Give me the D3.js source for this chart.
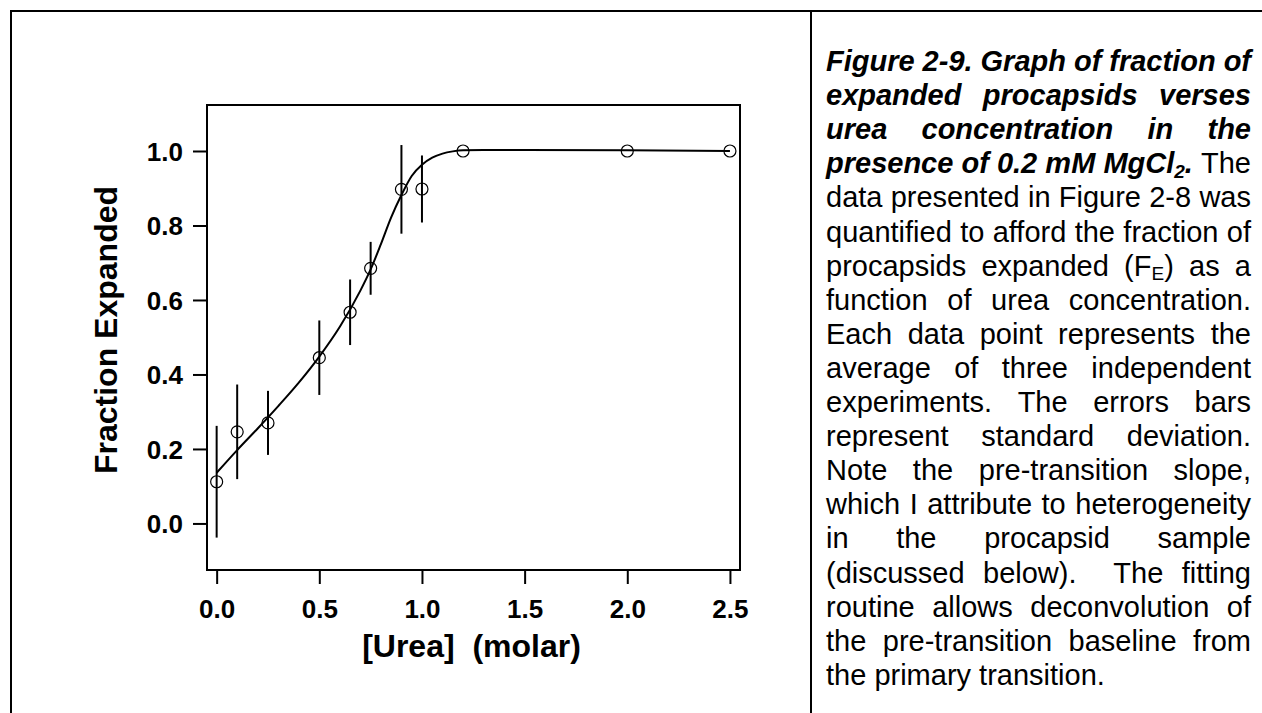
<!DOCTYPE html>
<html>
<head>
<meta charset="utf-8">
<script src="https://cdn.jsdelivr.net/npm/d3@7"></script>
<style>
  html, body { margin: 0; padding: 0; background: #fff; }
  svg { display: block; }
  text { font-family: "Liberation Sans", Arial, sans-serif; fill: #000; }
</style>
</head>
<body>
<svg id="fig" width="1262" height="713"></svg>
<script>
// Fraction of expanded procapsids vs. urea concentration (0.2 mM MgCl2)
const urea = [0, 0.1, 0.25, 0.5, 0.65, 0.75, 0.9, 1.0, 1.2, 2.0, 2.5];
const fracExpanded = [0.112, 0.246, 0.270, 0.445, 0.567, 0.685, 0.897, 0.898, 1.0, 1.0, 1.0];
const stdDev = [0.150, 0.127, 0.086, 0.100, 0.088, 0.071, 0.119, 0.090, 0, 0, 0];

// Fitted transition curve (baseline + sigmoid), sampled along urea
const fitUrea = [0, 0.1, 0.2, 0.3, 0.4, 0.5, 0.6, 0.7, 0.75, 0.8, 0.85, 0.9, 0.95, 1.0, 1.05, 1.1, 1.15, 1.2, 1.3, 1.5, 2.0, 2.5];
const fitFrac = [0.136, 0.197, 0.255, 0.315, 0.378, 0.448, 0.528, 0.625, 0.682, 0.750, 0.822, 0.882, 0.933, 0.963, 0.982, 0.993, 0.999, 1.002, 1.003, 1.003, 1.002, 1.0];

const xTickValues = [0, 0.5, 1.0, 1.5, 2.0, 2.5];
const yTickValues = [0, 0.2, 0.4, 0.6, 0.8, 1.0];

const xTitle = "[Urea]  (molar)";
const yTitle = "Fraction Expanded";

// Caption lines: runs of [text, style]; bi = bold italic, r = regular, *sub = subscript
const captionLines = [
  [["Figure 2-9. Graph of fraction of", "bi"]],
  [["expanded procapsids verses", "bi"]],
  [["urea concentration in the", "bi"]],
  [["presence of 0.2 mM MgCl", "bi"], ["2", "bisub"], [".", "bi"], [" The", "r"]],
  [["data presented in Figure 2-8 was", "r"]],
  [["quantified to afford the fraction of", "r"]],
  [["procapsids expanded (F", "r"], ["E", "rsub"], [") as a", "r"]],
  [["function of urea concentration.", "r"]],
  [["Each data point represents the", "r"]],
  [["average of three independent", "r"]],
  [["experiments. The errors bars", "r"]],
  [["represent standard deviation.", "r"]],
  [["Note the pre-transition slope,", "r"]],
  [["which I attribute to heterogeneity", "r"]],
  [["in the procapsid sample", "r"]],
  [["(discussed below).  The fitting", "r"]],
  [["routine allows deconvolution of", "r"]],
  [["the pre-transition baseline from", "r"]],
  [["the primary transition.", "r"]]
];

const svg = d3.select("#fig");
svg.append("rect").attr("width", 1262).attr("height", 713).attr("fill", "#fff");

// Page frame: top rule, left rule, and the divider between graph and caption
const page = svg.append("g").attr("stroke", "#000").attr("stroke-width", 2);
page.append("line").attr("x1", 10).attr("x2", 1262).attr("y1", 11).attr("y2", 11);
page.append("line").attr("x1", 11).attr("x2", 11).attr("y1", 10).attr("y2", 713);
page.append("line").attr("x1", 811).attr("x2", 811).attr("y1", 10).attr("y2", 713);

// Scales
const x = d3.scaleLinear().domain([-0.047, 2.549]).range([207, 740]);
const y = d3.scaleLinear().domain([-0.125, 1.1235]).range([570, 105]);

const plot = svg.append("g");

// Plot box
plot.append("rect")
  .attr("x", x.range()[0]).attr("y", y.range()[1])
  .attr("width", x.range()[1] - x.range()[0])
  .attr("height", y.range()[0] - y.range()[1])
  .attr("fill", "none").attr("stroke", "#000").attr("stroke-width", 2);

// Axes
const fmt = d3.format(".1f");
const yAxis = plot.append("g")
  .attr("transform", `translate(${x.range()[0]},0)`)
  .call(d3.axisLeft(y).tickValues(yTickValues).tickFormat(fmt).tickSize(14).tickPadding(10));
const xAxis = plot.append("g")
  .attr("transform", `translate(0,${y.range()[0]})`)
  .call(d3.axisBottom(x).tickValues(xTickValues).tickFormat(fmt).tickSize(14).tickPadding(16));

[xAxis, yAxis].forEach(a => {
  a.select(".domain").remove();
  a.selectAll(".tick line").attr("stroke", "#000").attr("stroke-width", 2);
  a.selectAll(".tick text")
    .attr("fill", "#000")
    .style("font-family", '"Liberation Sans", Arial, sans-serif')
    .style("font-size", "26px")
    .style("font-weight", "bold");
});
yAxis.selectAll(".tick text").attr("dy", "0.36em");

// Axis titles
plot.append("text")
  .attr("x", 471.5).attr("y", 657)
  .attr("text-anchor", "middle")
  .attr("xml:space", "preserve")
  .style("font-size", "32px").style("font-weight", "bold")
  .text(xTitle);

plot.append("text")
  .attr("transform", "translate(117,330) rotate(-90)")
  .attr("text-anchor", "middle")
  .style("font-size", "32px").style("font-weight", "bold")
  .text(yTitle);

// Fit curve
const fitPts = fitUrea.map((u, i) => [u, fitFrac[i]]);
plot.append("path")
  .datum(fitPts)
  .attr("fill", "none").attr("stroke", "#000").attr("stroke-width", 2)
  .attr("d", d3.line().x(d => x(d[0])).y(d => y(d[1])).curve(d3.curveMonotoneX));

// Data with standard deviation bars
const data = urea.map((u, i) => ({ u, f: fracExpanded[i], sd: stdDev[i] }));
plot.append("g").selectAll("line")
  .data(data.filter(d => d.sd > 0))
  .join("line")
  .attr("x1", d => x(d.u)).attr("x2", d => x(d.u))
  .attr("y1", d => y(d.f + d.sd)).attr("y2", d => y(d.f - d.sd))
  .attr("stroke", "#000").attr("stroke-width", 2);

plot.append("g").selectAll("circle")
  .data(data)
  .join("circle")
  .attr("cx", d => x(d.u)).attr("cy", d => y(d.f))
  .attr("r", 6)
  .attr("fill", "none").attr("stroke", "#000").attr("stroke-width", 1.2);

// Caption, fully justified except for the final line
const cap = { left: 826, right: 1251, firstBaseline: 71, lineHeight: 34.1, size: 29 };
const capG = svg.append("g").style("font-size", cap.size + "px");

function styleSeg(ts, style) {
  if (style.startsWith("bi")) ts.style("font-weight", "bold").style("font-style", "italic");
  if (style.endsWith("sub")) ts.style("font-size", Math.round(cap.size * 0.65) + "px");
}

function splitWords(runs) {
  const words = [[]];
  runs.forEach(([t, s]) => {
    const parts = t.split(" ");
    parts.forEach((p, k) => {
      if (k > 0) words.push([]);
      if (p.length) words[words.length - 1].push([p, s]);
    });
  });
  return words;
}

const subShift = cap.size * 0.16;

captionLines.forEach((runs, li) => {
  const by = cap.firstBaseline + li * cap.lineHeight;
  const words = splitWords(runs);
  const nodes = words.map(w => {
    const t = capG.append("text").attr("y", by);
    let lowered = false;
    w.forEach(([txt, st]) => {
      const ts = t.append("tspan").text(txt);
      styleSeg(ts, st);
      const isSub = st.endsWith("sub");
      if (isSub && !lowered) { ts.attr("dy", subShift); lowered = true; }
      else if (!isSub && lowered) { ts.attr("dy", -subShift); lowered = false; }
    });
    return t;
  });
  const widths = nodes.map(n => n.node().getComputedTextLength());
  const total = d3.sum(widths);
  const gaps = Math.max(1, nodes.length - 1);
  const isLast = li === captionLines.length - 1;
  const spaceW = cap.size * 0.278;
  const gap = isLast ? spaceW : (cap.right - cap.left - total) / gaps;
  let cx = cap.left;
  nodes.forEach((n, k) => {
    n.attr("x", cx);
    cx += widths[k] + gap;
  });
});
</script>
</body>
</html>
